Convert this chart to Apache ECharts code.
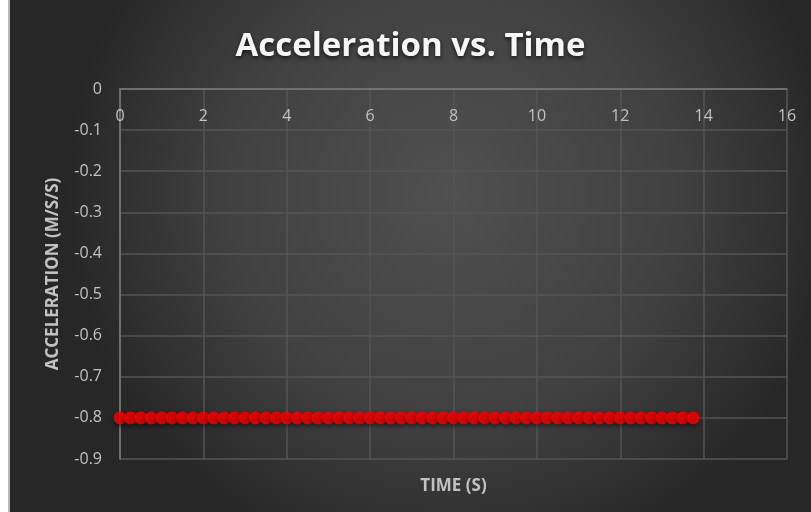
<!DOCTYPE html>
<html>
<head>
<meta charset="utf-8">
<script src="https://cdn.jsdelivr.net/npm/echarts@6/dist/echarts.min.js"></script>
<style>
  html, body { margin: 0; padding: 0; background: #ffffff; }
  #edge { position: absolute; left: 8px; top: 0; width: 2px; height: 512px; background: #b8b8b8; }
  #chart { position: absolute; left: 10px; top: 0; width: 801px; height: 512px; }
</style>
</head>
<body>
<div id="edge"></div>
<div id="chart"></div>
<script>
// Sample times (s), one reading every quarter second
const timeValues = [
  0, 0.25, 0.5, 0.75, 1, 1.25, 1.5, 1.75, 2, 2.25, 2.5, 2.75,
  3, 3.25, 3.5, 3.75, 4, 4.25, 4.5, 4.75, 5, 5.25, 5.5, 5.75,
  6, 6.25, 6.5, 6.75, 7, 7.25, 7.5, 7.75, 8, 8.25, 8.5, 8.75,
  9, 9.25, 9.5, 9.75, 10, 10.25, 10.5, 10.75, 11, 11.25, 11.5, 11.75,
  12, 12.25, 12.5, 12.75, 13, 13.25, 13.5, 13.75
];
// Measured acceleration (m/s/s) at each sample time
const accelValues = [
  -0.8, -0.8, -0.8, -0.8, -0.8, -0.8, -0.8, -0.8, -0.8, -0.8, -0.8, -0.8,
  -0.8, -0.8, -0.8, -0.8, -0.8, -0.8, -0.8, -0.8, -0.8, -0.8, -0.8, -0.8,
  -0.8, -0.8, -0.8, -0.8, -0.8, -0.8, -0.8, -0.8, -0.8, -0.8, -0.8, -0.8,
  -0.8, -0.8, -0.8, -0.8, -0.8, -0.8, -0.8, -0.8, -0.8, -0.8, -0.8, -0.8,
  -0.8, -0.8, -0.8, -0.8, -0.8, -0.8, -0.8, -0.8
];
const titleText = 'Acceleration vs. Time';
const xAxisTitle = 'TIME (S)';
const yAxisTitle = 'ACCELERATION (M/S/S)';

const points = timeValues.map((t, i) => [t, accelValues[i]]);

const labelColor = '#c2c2c2';
const gridColor = '#555555';
const frameColor = '#7c7c7c';
const font = '"Open Sans", "DejaVu Sans", sans-serif';

const chart = echarts.init(document.getElementById('chart'));
chart.setOption({
  animation: false,
  backgroundColor: {
    type: 'radial', x: 0.55, y: 0.38, r: 0.75,
    colorStops: [
      { offset: 0, color: '#505050' },
      { offset: 0.6, color: '#404040' },
      { offset: 1, color: '#272727' }
    ]
  },
  title: {
    text: titleText,
    left: 'center',
    top: 30,
    padding: [0, 0, 0, 10],
    textStyle: {
      color: '#f6f6f6', fontFamily: font, fontWeight: 700, fontSize: 33,
      textShadowColor: 'rgba(0,0,0,0.7)', textShadowBlur: 4, textShadowOffsetY: 2
    }
  },
  grid: { left: 110, top: 89, width: 667, height: 370 },
  xAxis: [
    {
      type: 'value', position: 'top', min: 0, max: 16, interval: 2,
      axisLine: { show: true, onZero: false, lineStyle: { color: frameColor, width: 1.5 } },
      axisTick: { show: false },
      axisLabel: { inside: true, margin: 19, color: labelColor, fontFamily: font, fontSize: 16 },
      splitLine: { show: true, lineStyle: { color: gridColor, width: 1.5 } }
    },
    {
      type: 'value', position: 'bottom', min: 0, max: 16,
      name: xAxisTitle, nameLocation: 'middle', nameGap: 19,
      nameTextStyle: { color: labelColor, fontFamily: font, fontWeight: 700, fontSize: 17 },
      axisLine: { show: false }, axisTick: { show: false }, axisLabel: { show: false }, splitLine: { show: false }
    }
  ],
  yAxis: {
    type: 'value', min: -0.9, max: 0, interval: 0.1,
    name: yAxisTitle, nameLocation: 'middle', nameGap: 58, nameRotate: 90,
    nameTextStyle: { color: labelColor, fontFamily: font, fontWeight: 700, fontSize: 17 },
    axisLine: { show: true, lineStyle: { color: frameColor, width: 1.5 } },
    axisTick: { show: false },
    axisLabel: {
      margin: 18, color: labelColor, fontFamily: font, fontSize: 16,
      formatter: v => String(Number(v.toFixed(1)))
    },
    splitLine: { show: true, lineStyle: { color: gridColor, width: 1.5 } }
  },
  series: [{
    type: 'scatter',
    xAxisIndex: 0,
    data: points,
    symbol: 'circle',
    symbolSize: 13,
    itemStyle: {
      color: '#ff0000',
      shadowColor: 'rgba(0,0,0,0.65)', shadowBlur: 4, shadowOffsetY: 2
    }
  }]
});
</script>
</body>
</html>
